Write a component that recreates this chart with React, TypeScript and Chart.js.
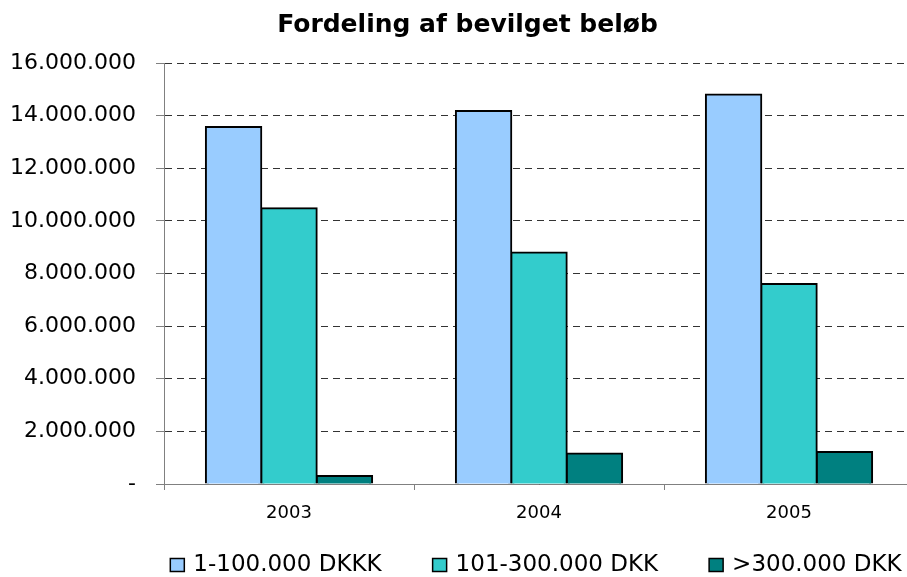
import React, { useEffect, useRef } from "react";
import { Chart, registerables } from "chart.js";

Chart.register(...registerables);

const categories = ["2003", "2004", "2005"];
const seriesLabels = ["1-100.000 DKKK", "101-300.000 DKK", ">300.000 DKK"];
const smallGrants = [13570000, 14180000, 14800000];
const mediumGrants = [10480000, 8800000, 7600000];
const largeGrants = [300000, 1160000, 1215000];
const seriesColors = ["#99CCFF", "#33CCCC", "#008080"];
const yMax = 16000000;
const yStep = 2000000;
const chartTitle = "Fordeling af bevilget beløb";

const fmt = (n: number) =>
  n === 0 ? "-" : String(Math.round(n)).replace(/\B(?=(\d{3})+(?!\d))/g, ".");

const FONT = '"DejaVu Sans", "Liberation Sans", Arial, sans-serif';

const titleAndLegend = {
  id: "titleAndLegend",
  afterDraw(chart: any) {
    const ctx = chart.ctx as CanvasRenderingContext2D;
    const { left, right } = chart.chartArea;
    ctx.save();
    // title
    ctx.font = `bold 25px ${FONT}`;
    ctx.fillStyle = "#000";
    ctx.textAlign = "center";
    ctx.textBaseline = "middle";
    ctx.fillText(chartTitle, chart.width / 2, 25);

    // legend
    const boxW = 14;
    const boxH = 13;
    const boxGap = 9;
    const itemGap = 51;
    const y = 565;
    ctx.font = `23px ${FONT}`;
    const items = chart.data.datasets.map((ds: any) => ({
      text: ds.label as string,
      color: ds.backgroundColor as string,
      w: ctx.measureText(ds.label).width,
    }));
    const total =
      items.reduce((s: number, it: any) => s + boxW + boxGap + it.w, 0) +
      itemGap * (items.length - 1);
    let x = (left + right) / 2 - 3 - total / 2;
    for (const it of items) {
      ctx.fillStyle = it.color;
      ctx.fillRect(x, y - boxH / 2, boxW, boxH);
      ctx.strokeStyle = "#000";
      ctx.lineWidth = 1.5;
      ctx.strokeRect(x, y - boxH / 2, boxW, boxH);
      ctx.fillStyle = "#000";
      ctx.textBaseline = "middle";
      ctx.textAlign = "left";
      ctx.fillText(it.text, x + boxW + boxGap, y);
      x += boxW + boxGap + it.w + itemGap;
    }
    ctx.restore();
  },
};

export default function App() {
  const ref = useRef<HTMLCanvasElement>(null);
  useEffect(() => {
    if (!ref.current) return;
    const series = [smallGrants, mediumGrants, largeGrants];
    const chart = new Chart(ref.current, {
      type: "bar",
      data: {
        labels: categories,
        datasets: series.map((data, i) => ({
          label: seriesLabels[i],
          data,
          backgroundColor: seriesColors[i],
          borderColor: "#000",
          borderWidth: 2,
          borderSkipped: "bottom",
          inflateAmount: 1,
          categoryPercentage: 0.665,
          barPercentage: 1.0,
        })),
      },
      options: {
        responsive: false,
        animation: false,
        devicePixelRatio: 1,
        layout: { padding: { left: 0, right: 21, top: 63, bottom: 50 } },
        plugins: {
          legend: { display: false },
          tooltip: { enabled: false },
          title: { display: false },
        },
        scales: {
          x: {
            offset: true,
            grid: {
              offset: true,
              drawOnChartArea: false,
              drawTicks: true,
              tickLength: 6,
              color: "#808080",
              tickColor: "#808080",
            },
            border: { display: true, color: "#808080", width: 1 },
            ticks: {
              color: "#000",
              font: { family: FONT, size: 18 },
              padding: 13,
              maxRotation: 0,
            },
            afterFit: (s: any) => {
              s.height = 43;
            },
          },
          y: {
            min: 0,
            max: yMax,
            ticks: {
              stepSize: yStep,
              color: "#000",
              font: { family: FONT, size: 22 },
              padding: 20,
              callback: (v: any) => fmt(Number(v)),
            },
            grid: {
              color: "#333",
              lineWidth: 1,
              drawTicks: true,
              tickLength: 8,
              tickColor: "#808080",
              tickBorderDash: [],
            },
            border: { display: true, color: "#808080", width: 1, dash: [7, 5] },
            afterFit: (s: any) => {
              s.width = 164;
            },
          },
        },
      },
      plugins: [titleAndLegend],
    });
    return () => chart.destroy();
  }, []);
  return (
    <div
      style={{
        position: "fixed",
        left: 0,
        top: 0,
        width: 907,
        height: 577,
        overflow: "hidden",
        background: "#fff",
      }}
    >
      <canvas ref={ref} width={935} height={577} style={{ display: "block" }} />
    </div>
  );
}
